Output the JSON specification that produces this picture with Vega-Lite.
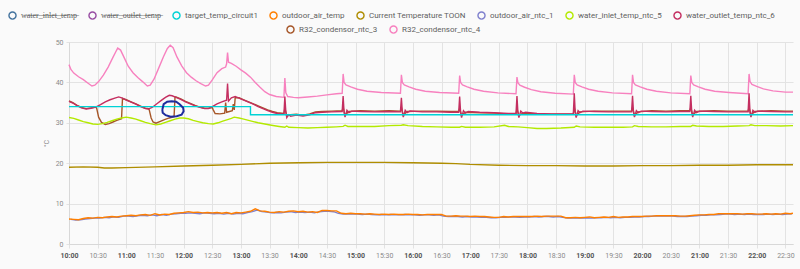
{
"$schema": "https://vega.github.io/schema/vega-lite/v6.json",
"width": 724, "height": 202,
"autosize": {"type": "none"},
"padding": {"left": 69, "top": 42, "right": 7, "bottom": 25},
"background": "#fafafa",
"config": {"font": "Roboto", "view": {"stroke": null}, "line": {"strokeWidth": 1.4}},
"resolve": {"scale": {"color": "independent"}},
"encoding": {
  "x": {"field": "t", "type": "temporal", "title": null,
   "scale": {"domain": [{"year": 1900, "month": 1, "date": 1, "hours": 10}, {"year": 1900, "month": 1, "date": 1, "hours": 22, "minutes": 38}], "nice": false},
   "axis": {"format": "%H:%M", "tickCount": 25, "labelFlush": false, "labelOverlap": false, "gridColor": "#e3e3e3", "tickColor": "#e3e3e3", "tickSize": 4, "labelPadding": 3, "domainColor": "#d8d8d8", "labelFontSize": 7,
    "labelColor": {"condition": {"test": "minutes(datum.value) == 0", "value": "#555555"}, "value": "#8a8a8a"},
    "labelFontWeight": {"condition": {"test": "minutes(datum.value) == 0", "value": "bold"}, "value": "normal"}}},
  "y": {"field": "v", "type": "quantitative", "scale": {"domain": [0, 50], "nice": false}, "title": "°C",
   "axis": {"tickCount": 5, "gridColor": "#e3e3e3", "tickColor": "#e3e3e3", "tickSize": 3, "labelPadding": 3, "domainColor": "#d8d8d8", "labelFontSize": 7, "labelColor": "#8a8a8a", "titleFontSize": 7, "titleFontWeight": "normal", "titleColor": "#8a8a8a", "titlePadding": 6}}
},
"layer": [
{
 "layer": [
  {"data": {"values": [
{"t":"10:00","v":44.4},{"t":"10:02","v":43.2},{"t":"10:05","v":42.3},{"t":"10:10","v":41.4},{"t":"10:15","v":40.7},{"t":"10:20","v":39.8},{"t":"10:24","v":39.1},{"t":"10:27","v":39.3},{"t":"10:31","v":40.2},{"t":"10:36","v":41.8},{"t":"10:41","v":43.8},{"t":"10:46","v":46.2},{"t":"10:49","v":47.6},{"t":"10:51","v":48.5},{"t":"10:54","v":48.0},{"t":"10:58","v":46.0},{"t":"11:02","v":44.0},{"t":"11:07","v":42.4},{"t":"11:12","v":41.2},{"t":"11:17","v":40.2},{"t":"11:22","v":39.1},{"t":"11:25","v":39.3},{"t":"11:29","v":40.8},{"t":"11:34","v":43.6},{"t":"11:39","v":46.4},{"t":"11:43","v":48.4},{"t":"11:46","v":49.2},{"t":"11:49","v":48.6},{"t":"11:53","v":46.3},{"t":"11:58","v":44.1},{"t":"12:03","v":42.4},{"t":"12:08","v":41.3},{"t":"12:13","v":40.4},{"t":"12:18","v":39.7},{"t":"12:23","v":39.1},{"t":"12:26","v":39.3},{"t":"12:30","v":40.6},{"t":"12:35","v":42.4},{"t":"12:40","v":43.4},{"t":"12:44","v":43.8},{"t":"12:45","v":44.6},{"t":"12:46","v":47.4},{"t":"12:47","v":45.0},{"t":"12:50","v":44.7},{"t":"12:55","v":44.0},{"t":"13:00","v":43.1},{"t":"13:05","v":42.3},{"t":"13:10","v":41.3},{"t":"13:15","v":40.0},{"t":"13:20","v":38.8},{"t":"13:25","v":37.7},{"t":"13:30","v":37.0},{"t":"13:37","v":36.5},{"t":"13:45","v":36.3},{"t":"13:46","v":41.1},{"t":"13:47","v":37.4},{"t":"13:49","v":36.5},{"t":"13:55","v":36.3},{"t":"14:00","v":36.2},{"t":"14:10","v":36.4},{"t":"14:20","v":36.6},{"t":"14:30","v":36.9},{"t":"14:40","v":37.2},{"t":"14:46","v":37.3},
{"t":"14:47","v":42.1},{"t":"14:48","v":40.0},{"t":"14:50","v":39.4},{"t":"14:55","v":38.9},{"t":"15:02","v":38.3},{"t":"15:12","v":37.8},{"t":"15:27","v":37.5},{"t":"15:47","v":37.3},
{"t":"15:48","v":41.9},{"t":"15:49","v":40.0},{"t":"15:51","v":39.4},{"t":"15:56","v":38.9},{"t":"16:03","v":38.3},{"t":"16:13","v":37.8},{"t":"16:28","v":37.5},{"t":"16:48","v":37.3},
{"t":"16:49","v":41.7},{"t":"16:50","v":40.0},{"t":"16:52","v":39.4},{"t":"16:57","v":38.9},{"t":"17:04","v":38.3},{"t":"17:14","v":37.8},{"t":"17:29","v":37.4},{"t":"17:48","v":37.2},
{"t":"17:49","v":41.3},{"t":"17:50","v":39.9},{"t":"17:52","v":39.3},{"t":"17:57","v":38.8},{"t":"18:04","v":38.2},{"t":"18:14","v":37.7},{"t":"18:29","v":37.3},{"t":"18:48","v":37.1},
{"t":"18:49","v":41.9},{"t":"18:50","v":40.0},{"t":"18:52","v":39.4},{"t":"18:57","v":38.9},{"t":"19:04","v":38.3},{"t":"19:14","v":37.8},{"t":"19:29","v":37.4},{"t":"19:49","v":37.2},
{"t":"19:50","v":41.9},{"t":"19:51","v":40.0},{"t":"19:53","v":39.4},{"t":"19:58","v":38.9},{"t":"20:05","v":38.3},{"t":"20:15","v":37.8},{"t":"20:30","v":37.4},{"t":"20:50","v":37.2},
{"t":"20:51","v":41.7},{"t":"20:52","v":40.0},{"t":"20:54","v":39.4},{"t":"20:59","v":38.9},{"t":"21:06","v":38.3},{"t":"21:16","v":37.8},{"t":"21:31","v":37.5},{"t":"21:51","v":37.2},
{"t":"21:52","v":42.1},{"t":"21:53","v":40.2},{"t":"21:55","v":39.5},{"t":"22:00","v":39.0},{"t":"22:07","v":38.4},{"t":"22:17","v":37.9},{"t":"22:30","v":37.6},{"t":"22:38","v":37.6}
  ], "format": {"parse": {"t": "date:'%H:%M'"}}},
  "mark": {"type": "line"},
  "encoding": {"color": {"datum": "R32_condensor_ntc_4", "type": "nominal",
   "scale": {"domain": ["R32_condensor_ntc_3", "R32_condensor_ntc_4"], "range": ["#a65628", "#f781bf"]},
   "legend": {"orient": "none", "legendX": 217, "legendY": -17, "direction": "horizontal", "title": null, "symbolType": "circle", "symbolSize": 50, "symbolStrokeWidth": 1, "labelFontSize": 8, "labelColor": "#5f5f5f", "labelOffset": 4, "columnPadding": 9, "padding": 0,
    "encode": {"symbols": {"update": {"fill": {"signal": "['#a65628','#f781bf'][datum.index]"}, "fillOpacity": {"value": 0.5}}}}}}}},
  {"data": {"values": [
{"t":"10:00","v":35.4},{"t":"10:04","v":35.0},{"t":"10:08","v":34.4},{"t":"10:13","v":33.8},{"t":"10:18","v":33.5},{"t":"10:23","v":33.7},{"t":"10:28","v":33.9},{"t":"10:29","v":33.6},{"t":"10:31","v":31.4},{"t":"10:34","v":30.1},{"t":"10:38","v":29.6},{"t":"10:42","v":29.8},{"t":"10:46","v":30.2},{"t":"10:50","v":30.6},{"t":"10:55","v":31.0},{"t":"10:56","v":36.0},{"t":"11:00","v":35.7},{"t":"11:05","v":35.2},{"t":"11:10","v":34.7},{"t":"11:15","v":34.1},{"t":"11:20","v":33.6},{"t":"11:23","v":33.5},{"t":"11:24","v":33.2},{"t":"11:26","v":31.2},{"t":"11:28","v":30.2},{"t":"11:31","v":29.9},{"t":"11:35","v":30.3},{"t":"11:40","v":30.8},{"t":"11:45","v":31.2},{"t":"11:50","v":31.5},{"t":"11:51","v":36.4},{"t":"11:52","v":36.4},{"t":"11:57","v":35.9},{"t":"12:02","v":35.3},{"t":"12:07","v":34.8},{"t":"12:12","v":34.3},{"t":"12:17","v":33.9},{"t":"12:22","v":33.6},{"t":"12:26","v":33.6},{"t":"12:30","v":33.8},{"t":"12:31","v":33.2},{"t":"12:33","v":32.3},{"t":"12:38","v":32.2},{"t":"12:43","v":32.4},{"t":"12:44","v":35.0},{"t":"12:45","v":32.6},{"t":"12:48","v":32.8},{"t":"12:51","v":33.0},{"t":"12:52","v":34.6},{"t":"12:53","v":33.2},{"t":"12:54","v":36.2},{"t":"12:58","v":36.2},{"t":"13:03","v":35.7},{"t":"13:08","v":35.2},{"t":"13:13","v":34.7},{"t":"13:18","v":34.2},{"t":"13:23","v":33.7},{"t":"13:28","v":33.2},{"t":"13:33","v":32.8},{"t":"13:38","v":32.5},{"t":"13:45","v":32.3},
{"t":"13:46","v":33.6},{"t":"13:48","v":31.7},{"t":"13:52","v":32.0},{"t":"13:58","v":32.1},{"t":"14:05","v":31.9},{"t":"14:12","v":32.2},{"t":"14:18","v":32.7},{"t":"14:25","v":32.8},{"t":"14:35","v":32.9},{"t":"14:46","v":33.0},
{"t":"14:47","v":33.8},{"t":"14:49","v":31.9},{"t":"14:53","v":32.8},{"t":"15:05","v":33.0},{"t":"15:20","v":32.9},{"t":"15:35","v":33.0},{"t":"15:47","v":32.9},
{"t":"15:48","v":33.8},{"t":"15:50","v":31.9},{"t":"15:54","v":32.8},{"t":"16:10","v":32.9},{"t":"16:25","v":32.9},{"t":"16:40","v":32.8},{"t":"16:48","v":32.8},
{"t":"16:49","v":33.6},{"t":"16:51","v":31.8},{"t":"16:55","v":32.6},{"t":"17:10","v":32.5},{"t":"17:25","v":32.4},{"t":"17:40","v":32.2},{"t":"17:48","v":32.2},
{"t":"17:49","v":33.5},{"t":"17:51","v":31.8},{"t":"17:55","v":32.4},{"t":"18:10","v":32.2},{"t":"18:25","v":32.1},{"t":"18:40","v":32.1},{"t":"18:48","v":32.1},
{"t":"18:49","v":33.8},{"t":"18:51","v":31.8},{"t":"18:55","v":32.7},{"t":"19:10","v":32.9},{"t":"19:25","v":32.9},{"t":"19:40","v":32.9},{"t":"19:49","v":32.9},
{"t":"19:50","v":33.8},{"t":"19:52","v":31.9},{"t":"19:56","v":32.7},{"t":"20:10","v":33.0},{"t":"20:25","v":32.9},{"t":"20:40","v":33.0},{"t":"20:50","v":33.0},
{"t":"20:51","v":33.8},{"t":"20:53","v":31.9},{"t":"20:57","v":32.8},{"t":"21:15","v":33.0},{"t":"21:30","v":32.9},{"t":"21:45","v":32.9},{"t":"21:51","v":32.9},
{"t":"21:52","v":33.8},{"t":"21:54","v":31.9},{"t":"21:58","v":32.8},{"t":"22:15","v":33.0},{"t":"22:30","v":32.9},{"t":"22:38","v":32.9}
  ], "format": {"parse": {"t": "date:'%H:%M'"}}},
  "mark": {"type": "line"},
  "encoding": {"color": {"datum": "R32_condensor_ntc_3", "type": "nominal"}}}
 ]
},
{
 "layer": [
  {"data": {"values": [
{"t":"10:00","v":35.3},{"t":"10:04","v":34.9},{"t":"10:08","v":34.3},{"t":"10:13","v":33.7},{"t":"10:18","v":33.4},{"t":"10:23","v":33.6},{"t":"10:28","v":33.9},{"t":"10:33","v":34.5},{"t":"10:38","v":35.2},{"t":"10:43","v":35.7},{"t":"10:48","v":36.1},{"t":"10:52","v":36.4},{"t":"10:56","v":36.1},{"t":"11:00","v":35.6},{"t":"11:05","v":35.1},{"t":"11:10","v":34.6},{"t":"11:15","v":34.0},{"t":"11:20","v":33.5},{"t":"11:23","v":33.4},{"t":"11:27","v":33.8},{"t":"11:32","v":34.7},{"t":"11:37","v":35.6},{"t":"11:41","v":36.3},{"t":"11:45","v":36.8},{"t":"11:48","v":36.7},{"t":"11:52","v":36.3},{"t":"11:57","v":35.8},{"t":"12:02","v":35.2},{"t":"12:07","v":34.7},{"t":"12:12","v":34.2},{"t":"12:17","v":33.8},{"t":"12:22","v":33.5},{"t":"12:26","v":33.5},{"t":"12:30","v":34.0},{"t":"12:35","v":34.7},{"t":"12:40","v":35.2},{"t":"12:45","v":35.6},{"t":"12:46","v":39.7},{"t":"12:47","v":35.4},{"t":"12:50","v":36.2},{"t":"12:54","v":36.5},{"t":"12:58","v":36.1},{"t":"13:03","v":35.6},{"t":"13:08","v":35.1},{"t":"13:13","v":34.6},{"t":"13:18","v":34.0},{"t":"13:23","v":33.5},{"t":"13:28","v":33.0},{"t":"13:33","v":32.6},{"t":"13:38","v":32.3},{"t":"13:45","v":32.1},
{"t":"13:46","v":36.5},{"t":"13:47","v":32.8},{"t":"13:48","v":31.3},{"t":"13:50","v":32.0},{"t":"13:52","v":31.6},{"t":"13:58","v":31.9},{"t":"14:05","v":31.7},{"t":"14:12","v":32.0},{"t":"14:18","v":32.5},{"t":"14:25","v":32.6},{"t":"14:35","v":32.7},{"t":"14:46","v":32.8},
{"t":"14:47","v":36.6},{"t":"14:48","v":32.6},{"t":"14:49","v":31.4},{"t":"14:51","v":33.1},{"t":"14:53","v":32.5},{"t":"14:56","v":32.9},{"t":"15:05","v":32.8},{"t":"15:20","v":32.7},{"t":"15:35","v":32.8},{"t":"15:47","v":32.7},
{"t":"15:48","v":36.2},{"t":"15:49","v":32.6},{"t":"15:50","v":31.4},{"t":"15:52","v":33.1},{"t":"15:54","v":32.5},{"t":"15:57","v":32.9},{"t":"16:10","v":32.7},{"t":"16:25","v":32.7},{"t":"16:40","v":32.6},{"t":"16:48","v":32.6},
{"t":"16:49","v":36.5},{"t":"16:50","v":32.6},{"t":"16:51","v":31.3},{"t":"16:53","v":33.0},{"t":"16:55","v":32.4},{"t":"16:58","v":32.8},{"t":"17:10","v":32.6},{"t":"17:25","v":32.5},{"t":"17:40","v":32.3},{"t":"17:48","v":32.3},
{"t":"17:49","v":36.6},{"t":"17:50","v":32.5},{"t":"17:51","v":31.3},{"t":"17:53","v":32.9},{"t":"17:55","v":32.4},{"t":"17:58","v":32.6},{"t":"18:10","v":32.3},{"t":"18:25","v":32.2},{"t":"18:40","v":32.2},{"t":"18:48","v":32.2},
{"t":"18:49","v":37.3},{"t":"18:50","v":32.5},{"t":"18:51","v":31.3},{"t":"18:53","v":33.0},{"t":"18:55","v":32.5},{"t":"18:58","v":32.9},{"t":"19:10","v":32.8},{"t":"19:25","v":32.7},{"t":"19:40","v":32.7},{"t":"19:49","v":32.7},
{"t":"19:50","v":36.7},{"t":"19:51","v":32.6},{"t":"19:52","v":31.4},{"t":"19:54","v":33.0},{"t":"19:56","v":32.5},{"t":"19:59","v":32.9},{"t":"20:10","v":32.8},{"t":"20:25","v":32.7},{"t":"20:40","v":32.8},{"t":"20:50","v":32.8},
{"t":"20:51","v":36.7},{"t":"20:52","v":32.6},{"t":"20:53","v":31.4},{"t":"20:55","v":33.1},{"t":"20:57","v":32.5},{"t":"21:00","v":32.9},{"t":"21:15","v":32.8},{"t":"21:30","v":32.7},{"t":"21:45","v":32.7},{"t":"21:51","v":32.7},
{"t":"21:52","v":37.3},{"t":"21:53","v":32.6},{"t":"21:54","v":31.4},{"t":"21:56","v":33.1},{"t":"21:58","v":32.6},{"t":"22:01","v":32.9},{"t":"22:15","v":32.8},{"t":"22:30","v":32.7},{"t":"22:38","v":32.7}
  ], "format": {"parse": {"t": "date:'%H:%M'"}}},
  "mark": {"type": "line"},
  "encoding": {"color": {"datum": "water_outlet_temp_ntc_6", "type": "nominal",
   "scale": {"domain": ["water_inlet_temp", "water_outlet_temp", "target_temp_circuit1", "outdoor_air_temp", "Current Temperature TOON", "outdoor_air_ntc_1", "water_inlet_temp_ntc_5", "water_outlet_temp_ntc_6"], "range": ["#44739e", "#984ea3", "#00d2d5", "#ff7f00", "#af8d00", "#7f80cd", "#b3e900", "#c42e60"]},
   "legend": {"orient": "none", "legendX": -61, "legendY": -31, "direction": "horizontal", "title": null, "symbolType": "circle", "symbolSize": 50, "symbolStrokeWidth": 1, "labelFontSize": 8, "labelColor": "#5f5f5f", "labelOffset": 4, "columnPadding": 9, "padding": 0,
    "labelExpr": "datum.index == 0 ? 'w\u0336a\u0336t\u0336e\u0336r\u0336_\u0336i\u0336n\u0336l\u0336e\u0336t\u0336_\u0336t\u0336e\u0336m\u0336p\u0336' : datum.index == 1 ? 'w\u0336a\u0336t\u0336e\u0336r\u0336_\u0336o\u0336u\u0336t\u0336l\u0336e\u0336t\u0336_\u0336t\u0336e\u0336m\u0336p\u0336' : datum.label",
    "encode": {"symbols": {"update": {"fill": {"signal": "['#44739e','#984ea3','#00d2d5','#ff7f00','#af8d00','#7f80cd','#b3e900','#c42e60'][datum.index]"}, "fillOpacity": {"value": 0.5}}}}}}}},
  {"data": {"values": [
{"t":"10:00","v":31.3},{"t":"10:05","v":31.1},{"t":"10:10","v":30.7},{"t":"10:15","v":30.3},{"t":"10:20","v":30.0},{"t":"10:25","v":29.7},{"t":"10:30","v":29.6},{"t":"10:35","v":29.8},{"t":"10:40","v":30.1},{"t":"10:45","v":30.5},{"t":"10:50","v":30.9},{"t":"10:55","v":31.2},{"t":"11:00","v":31.4},{"t":"11:05","v":31.2},{"t":"11:10","v":30.9},{"t":"11:15","v":30.5},{"t":"11:20","v":30.1},{"t":"11:25","v":29.8},{"t":"11:31","v":29.5},{"t":"11:36","v":29.7},{"t":"11:41","v":30.1},{"t":"11:46","v":30.5},{"t":"11:51","v":30.9},{"t":"11:56","v":31.2},{"t":"12:00","v":31.2},{"t":"12:05","v":31.0},{"t":"12:10","v":30.6},{"t":"12:15","v":30.3},{"t":"12:20","v":30.0},{"t":"12:26","v":29.8},{"t":"12:31","v":29.7},{"t":"12:36","v":30.0},{"t":"12:41","v":30.4},{"t":"12:46","v":30.8},{"t":"12:50","v":31.1},{"t":"12:53","v":31.4},{"t":"12:58","v":31.2},{"t":"13:03","v":30.9},{"t":"13:08","v":30.6},{"t":"13:13","v":30.3},{"t":"13:18","v":30.0},{"t":"13:25","v":29.7},{"t":"13:32","v":29.4},{"t":"13:40","v":29.1},{"t":"13:46","v":28.9},{"t":"13:48","v":29.2},{"t":"13:50","v":28.9},{"t":"14:00","v":28.8},{"t":"14:10","v":28.7},{"t":"14:20","v":28.8},{"t":"14:30","v":28.9},{"t":"14:40","v":29.0},{"t":"14:47","v":29.1},{"t":"14:49","v":29.4},{"t":"14:52","v":29.1},{"t":"15:05","v":29.1},{"t":"15:20","v":29.1},{"t":"15:35","v":29.3},{"t":"15:48","v":29.4},{"t":"15:50","v":29.5},{"t":"15:55","v":29.3},{"t":"16:10","v":29.1},{"t":"16:25","v":29.0},{"t":"16:40","v":28.9},{"t":"16:49","v":28.9},{"t":"16:51","v":29.1},{"t":"16:55","v":28.9},{"t":"17:10","v":28.9},{"t":"17:25","v":29.0},{"t":"17:36","v":29.4},{"t":"17:40","v":29.1},{"t":"17:50","v":29.0},{"t":"18:00","v":28.8},{"t":"18:10","v":28.6},{"t":"18:20","v":28.6},{"t":"18:35","v":28.7},{"t":"18:49","v":28.9},{"t":"18:51","v":29.2},{"t":"18:55","v":29.0},{"t":"19:10","v":28.9},{"t":"19:25","v":28.9},{"t":"19:40","v":28.9},{"t":"19:50","v":29.0},{"t":"19:52","v":29.3},{"t":"19:56","v":29.1},{"t":"20:10","v":29.0},{"t":"20:25","v":29.0},{"t":"20:40","v":29.1},{"t":"20:51","v":29.1},{"t":"20:53","v":29.4},{"t":"20:57","v":29.2},{"t":"21:10","v":29.1},{"t":"21:25","v":29.1},{"t":"21:40","v":29.2},{"t":"21:52","v":29.3},{"t":"21:54","v":29.5},{"t":"21:58","v":29.3},{"t":"22:10","v":29.3},{"t":"22:25","v":29.2},{"t":"22:38","v":29.3}
  ], "format": {"parse": {"t": "date:'%H:%M'"}}},
  "mark": {"type": "line"},
  "encoding": {"color": {"datum": "water_inlet_temp_ntc_5", "type": "nominal"}}},
  {"data": {"values": [
{"t":"10:02","v":6.1},{"t":"10:07","v":5.9},{"t":"10:12","v":6.0},{"t":"10:17","v":6.2},{"t":"10:22","v":6.3},{"t":"10:27","v":6.4},{"t":"10:32","v":6.4},{"t":"10:37","v":6.6},{"t":"10:42","v":6.5},{"t":"10:47","v":6.7},{"t":"10:52","v":6.6},{"t":"10:57","v":6.9},{"t":"11:02","v":6.9},{"t":"11:07","v":6.8},{"t":"11:12","v":7.0},{"t":"11:17","v":7.1},{"t":"11:22","v":7.0},{"t":"11:27","v":7.2},{"t":"11:32","v":7.0},{"t":"11:37","v":7.3},{"t":"11:42","v":7.1},{"t":"11:47","v":7.4},{"t":"11:52","v":7.5},{"t":"11:57","v":7.6},{"t":"12:02","v":7.6},{"t":"12:07","v":7.7},{"t":"12:12","v":7.6},{"t":"12:17","v":7.5},{"t":"12:22","v":7.7},{"t":"12:27","v":7.6},{"t":"12:32","v":7.5},{"t":"12:37","v":7.6},{"t":"12:42","v":7.4},{"t":"12:47","v":7.6},{"t":"12:52","v":7.4},{"t":"12:57","v":7.6},{"t":"13:02","v":7.5},{"t":"13:07","v":7.8},{"t":"13:12","v":8.0},{"t":"13:17","v":8.4},{"t":"13:22","v":8.0},{"t":"13:27","v":7.9},{"t":"13:32","v":7.7},{"t":"13:37","v":7.8},{"t":"13:42","v":7.7},{"t":"13:47","v":7.9},{"t":"13:52","v":8.0},{"t":"13:57","v":7.8},{"t":"14:02","v":7.9},{"t":"14:07","v":7.8},{"t":"14:12","v":7.9},{"t":"14:17","v":7.7},{"t":"14:22","v":8.0},{"t":"14:27","v":8.1},{"t":"14:32","v":8.1},{"t":"14:37","v":8.0},{"t":"14:42","v":7.6},{"t":"14:47","v":7.4},{"t":"14:52","v":7.5},{"t":"14:57","v":7.4},{"t":"15:02","v":7.4},{"t":"15:07","v":7.3},{"t":"15:12","v":7.4},{"t":"15:17","v":7.3},{"t":"15:22","v":7.2},{"t":"15:27","v":7.3},{"t":"15:32","v":7.2},{"t":"15:37","v":7.3},{"t":"15:42","v":7.2},{"t":"15:47","v":7.2},{"t":"15:52","v":7.3},{"t":"15:57","v":7.2},{"t":"16:02","v":7.2},{"t":"16:07","v":7.1},{"t":"16:12","v":7.2},{"t":"16:17","v":7.2},{"t":"16:22","v":7.1},{"t":"16:27","v":7.2},{"t":"16:32","v":6.9},{"t":"16:37","v":6.8},{"t":"16:42","v":6.8},{"t":"16:47","v":6.8},{"t":"16:52","v":6.7},{"t":"16:57","v":6.8},{"t":"17:02","v":6.7},{"t":"17:07","v":6.7},{"t":"17:12","v":6.6},{"t":"17:17","v":6.6},{"t":"17:22","v":6.5},{"t":"17:27","v":6.5},{"t":"17:32","v":6.6},{"t":"17:37","v":6.6},{"t":"17:42","v":6.7},{"t":"17:47","v":6.7},{"t":"17:52","v":6.6},{"t":"17:57","v":6.7},{"t":"18:02","v":6.7},{"t":"18:07","v":6.8},{"t":"18:12","v":6.7},{"t":"18:17","v":6.8},{"t":"18:22","v":6.8},{"t":"18:27","v":6.7},{"t":"18:32","v":6.8},{"t":"18:37","v":6.6},{"t":"18:42","v":6.4},{"t":"18:47","v":6.4},{"t":"18:52","v":6.5},{"t":"18:57","v":6.4},{"t":"19:02","v":6.5},{"t":"19:07","v":6.4},{"t":"19:12","v":6.5},{"t":"19:17","v":6.5},{"t":"19:22","v":6.6},{"t":"19:27","v":6.5},{"t":"19:32","v":6.6},{"t":"19:37","v":6.5},{"t":"19:42","v":6.6},{"t":"19:47","v":6.6},{"t":"19:52","v":6.7},{"t":"19:57","v":6.7},{"t":"20:02","v":6.8},{"t":"20:07","v":6.8},{"t":"20:12","v":6.9},{"t":"20:17","v":6.9},{"t":"20:22","v":6.9},{"t":"20:27","v":6.9},{"t":"20:32","v":6.9},{"t":"20:37","v":6.8},{"t":"20:42","v":6.8},{"t":"20:47","v":6.8},{"t":"20:52","v":6.9},{"t":"20:57","v":7.0},{"t":"21:02","v":7.1},{"t":"21:07","v":7.1},{"t":"21:12","v":7.2},{"t":"21:17","v":7.2},{"t":"21:22","v":7.3},{"t":"21:27","v":7.4},{"t":"21:32","v":7.4},{"t":"21:37","v":7.3},{"t":"21:42","v":7.4},{"t":"21:47","v":7.3},{"t":"21:52","v":7.4},{"t":"21:57","v":7.3},{"t":"22:02","v":7.3},{"t":"22:07","v":7.3},{"t":"22:12","v":7.4},{"t":"22:17","v":7.3},{"t":"22:22","v":7.4},{"t":"22:27","v":7.3},{"t":"22:32","v":7.4},{"t":"22:37","v":7.5}
  ], "format": {"parse": {"t": "date:'%H:%M'"}}},
  "mark": {"type": "line"},
  "encoding": {"color": {"datum": "outdoor_air_ntc_1", "type": "nominal"}}},
  {"data": {"values": [
{"t":"10:00","v":19.0},{"t":"10:15","v":19.1},{"t":"10:30","v":19.0},{"t":"10:37","v":18.8},{"t":"10:45","v":18.8},{"t":"11:00","v":18.9},{"t":"11:30","v":19.1},{"t":"12:00","v":19.3},{"t":"12:30","v":19.5},{"t":"13:00","v":19.7},{"t":"13:30","v":20.0},{"t":"14:00","v":20.1},{"t":"14:30","v":20.2},{"t":"15:00","v":20.2},{"t":"15:30","v":20.2},{"t":"16:00","v":20.1},{"t":"16:30","v":20.0},{"t":"16:45","v":19.9},{"t":"17:00","v":19.7},{"t":"17:30","v":19.5},{"t":"18:00","v":19.4},{"t":"18:30","v":19.4},{"t":"19:00","v":19.3},{"t":"19:30","v":19.3},{"t":"20:00","v":19.4},{"t":"20:30","v":19.4},{"t":"21:00","v":19.5},{"t":"21:30","v":19.5},{"t":"22:00","v":19.6},{"t":"22:38","v":19.6}
  ], "format": {"parse": {"t": "date:'%H:%M'"}}},
  "mark": {"type": "line"},
  "encoding": {"color": {"datum": "Current Temperature TOON", "type": "nominal"}}},
  {"data": {"values": [
{"t":"10:00","v":6.2},{"t":"10:05","v":6.1},{"t":"10:10","v":6.0},{"t":"10:15","v":6.3},{"t":"10:20","v":6.5},{"t":"10:25","v":6.4},{"t":"10:30","v":6.6},{"t":"10:35","v":6.5},{"t":"10:40","v":6.7},{"t":"10:45","v":6.8},{"t":"10:50","v":6.7},{"t":"10:55","v":6.9},{"t":"11:00","v":7.0},{"t":"11:05","v":7.1},{"t":"11:10","v":7.0},{"t":"11:15","v":7.2},{"t":"11:20","v":7.3},{"t":"11:25","v":7.1},{"t":"11:30","v":7.5},{"t":"11:35","v":7.2},{"t":"11:40","v":7.4},{"t":"11:45","v":7.3},{"t":"11:50","v":7.6},{"t":"11:55","v":7.7},{"t":"12:00","v":7.8},{"t":"12:05","v":8.0},{"t":"12:10","v":7.8},{"t":"12:15","v":7.9},{"t":"12:20","v":7.7},{"t":"12:25","v":7.8},{"t":"12:30","v":7.7},{"t":"12:35","v":7.8},{"t":"12:40","v":7.6},{"t":"12:45","v":7.8},{"t":"12:50","v":7.5},{"t":"12:55","v":7.8},{"t":"13:00","v":7.7},{"t":"13:05","v":7.9},{"t":"13:10","v":8.1},{"t":"13:15","v":8.7},{"t":"13:20","v":8.2},{"t":"13:25","v":8.1},{"t":"13:30","v":7.9},{"t":"13:35","v":7.8},{"t":"13:40","v":8.0},{"t":"13:45","v":7.9},{"t":"13:50","v":8.1},{"t":"13:55","v":8.2},{"t":"14:00","v":8.0},{"t":"14:05","v":8.1},{"t":"14:10","v":7.9},{"t":"14:15","v":8.0},{"t":"14:20","v":7.8},{"t":"14:25","v":8.3},{"t":"14:30","v":8.3},{"t":"14:35","v":8.2},{"t":"14:40","v":8.2},{"t":"14:45","v":7.6},{"t":"14:50","v":7.5},{"t":"14:55","v":7.6},{"t":"15:00","v":7.5},{"t":"15:05","v":7.5},{"t":"15:10","v":7.4},{"t":"15:15","v":7.5},{"t":"15:20","v":7.4},{"t":"15:25","v":7.3},{"t":"15:30","v":7.4},{"t":"15:35","v":7.3},{"t":"15:40","v":7.4},{"t":"15:45","v":7.3},{"t":"15:50","v":7.3},{"t":"15:55","v":7.4},{"t":"16:00","v":7.3},{"t":"16:05","v":7.3},{"t":"16:10","v":7.2},{"t":"16:15","v":7.3},{"t":"16:20","v":7.3},{"t":"16:25","v":7.3},{"t":"16:30","v":7.3},{"t":"16:35","v":6.9},{"t":"16:40","v":6.9},{"t":"16:45","v":7.0},{"t":"16:50","v":6.9},{"t":"16:55","v":6.9},{"t":"17:00","v":6.8},{"t":"17:05","v":6.9},{"t":"17:10","v":6.8},{"t":"17:15","v":6.8},{"t":"17:20","v":6.7},{"t":"17:25","v":6.6},{"t":"17:30","v":6.6},{"t":"17:35","v":6.8},{"t":"17:40","v":6.7},{"t":"17:45","v":6.8},{"t":"17:50","v":6.8},{"t":"17:55","v":6.8},{"t":"18:00","v":6.8},{"t":"18:05","v":6.8},{"t":"18:10","v":6.9},{"t":"18:15","v":6.8},{"t":"18:20","v":6.9},{"t":"18:25","v":6.9},{"t":"18:30","v":6.9},{"t":"18:35","v":6.9},{"t":"18:40","v":6.5},{"t":"18:45","v":6.5},{"t":"18:50","v":6.6},{"t":"18:55","v":6.5},{"t":"19:00","v":6.6},{"t":"19:05","v":6.7},{"t":"19:10","v":6.5},{"t":"19:15","v":6.6},{"t":"19:20","v":6.7},{"t":"19:25","v":6.6},{"t":"19:30","v":6.8},{"t":"19:35","v":6.6},{"t":"19:40","v":6.7},{"t":"19:45","v":6.7},{"t":"19:50","v":6.8},{"t":"19:55","v":6.8},{"t":"20:00","v":6.8},{"t":"20:05","v":6.9},{"t":"20:10","v":6.9},{"t":"20:15","v":7.0},{"t":"20:20","v":7.0},{"t":"20:25","v":7.0},{"t":"20:30","v":7.0},{"t":"20:35","v":7.0},{"t":"20:40","v":6.9},{"t":"20:45","v":6.9},{"t":"20:50","v":7.0},{"t":"20:55","v":7.1},{"t":"21:00","v":7.2},{"t":"21:05","v":7.2},{"t":"21:10","v":7.3},{"t":"21:15","v":7.3},{"t":"21:20","v":7.5},{"t":"21:25","v":7.5},{"t":"21:30","v":7.5},{"t":"21:35","v":7.5},{"t":"21:40","v":7.5},{"t":"21:45","v":7.4},{"t":"21:50","v":7.5},{"t":"21:55","v":7.5},{"t":"22:00","v":7.4},{"t":"22:05","v":7.4},{"t":"22:10","v":7.5},{"t":"22:15","v":7.4},{"t":"22:20","v":7.5},{"t":"22:25","v":7.4},{"t":"22:30","v":7.6},{"t":"22:35","v":7.5},{"t":"22:38","v":7.6}
  ], "format": {"parse": {"t": "date:'%H:%M'"}}},
  "mark": {"type": "line"},
  "encoding": {"color": {"datum": "outdoor_air_temp", "type": "nominal"}}},
  {"data": {"values": [
{"t":"10:00","v":34},{"t":"13:10","v":32},{"t":"22:38","v":32}
  ], "format": {"parse": {"t": "date:'%H:%M'"}}},
  "mark": {"type": "line", "interpolate": "step-after"},
  "encoding": {"color": {"datum": "target_temp_circuit1", "type": "nominal"}}},
  {"data": {"values": [
{"i":0,"t":"11:37:42","v":33.24},{"i":1,"t":"11:39:06","v":34.6},{"i":2,"t":"11:42:48","v":35.22},{"i":3,"t":"11:47:30","v":35.35},{"i":4,"t":"11:52:12","v":35.22},{"i":5,"t":"11:55:48","v":34.6},{"i":6,"t":"11:59:30","v":33.74},{"i":7,"t":"12:00:00","v":32.87},{"i":8,"t":"11:57:54","v":32.0},{"i":9,"t":"11:52:42","v":31.63},{"i":10,"t":"11:46:24","v":31.5},{"i":11,"t":"11:41:12","v":31.88},{"i":12,"t":"11:38:06","v":32.5},{"i":13,"t":"11:37:42","v":33.24}
  ], "format": {"parse": {"t": "date:'%H:%M:%S'"}}},
  "mark": {"type": "line", "color": "#1d2b9e", "strokeWidth": 2},
  "encoding": {"order": {"field": "i", "type": "quantitative"}}}
 ]
}
]
}
